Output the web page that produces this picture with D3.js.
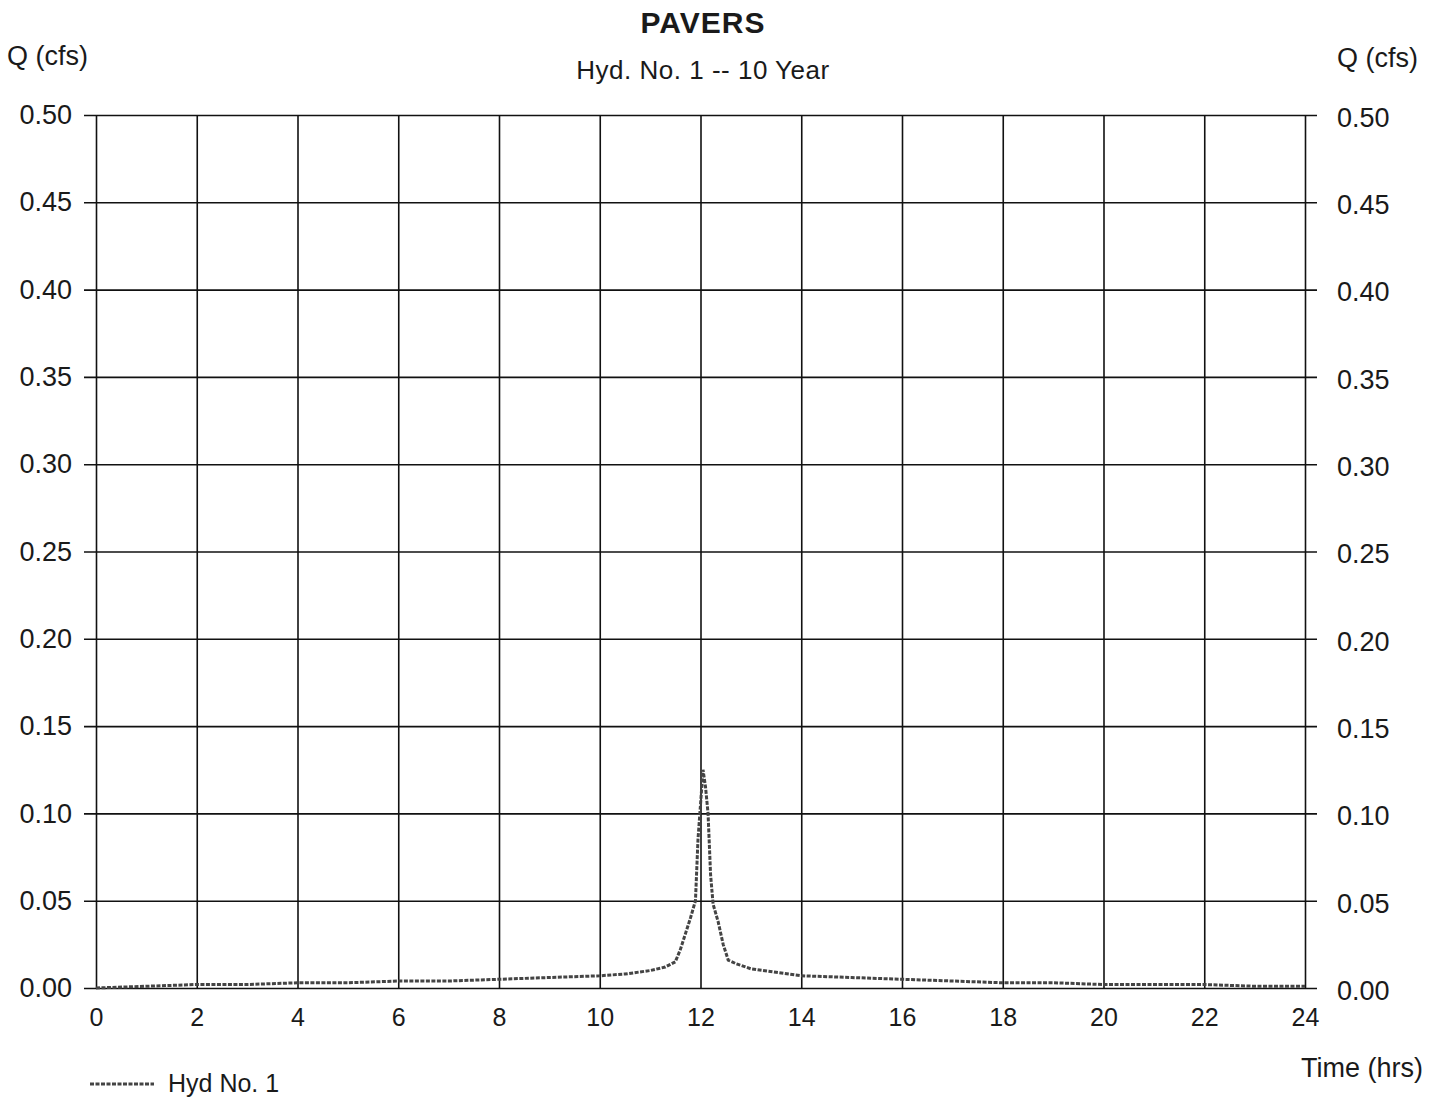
<!DOCTYPE html>
<html>
<head>
<meta charset="utf-8">
<script src="https://cdn.jsdelivr.net/npm/d3@7"></script>
<style>
  body { margin: 0; background: #fff; }
  text { font-family: "Liberation Sans", Arial, sans-serif; fill: #1a1a1a; }
</style>
</head>
<body>
<div id="chart"></div>
<script>
// hydrograph values
const hours = [0, 1, 2, 3, 4, 5, 6, 7, 8, 9, 10, 10.5, 11, 11.3, 11.5, 11.6, 11.7, 11.8, 11.9, 11.95, 12.0, 12.05,
  12.1, 12.15, 12.2, 12.25, 12.35, 12.45, 12.55, 12.7, 13, 13.5, 14, 15, 16, 17, 18, 19, 20, 21, 22, 23, 24];
const flow = [0.000, 0.001, 0.002, 0.002, 0.003, 0.003, 0.004, 0.004, 0.005, 0.006, 0.007, 0.008, 0.010, 0.012, 0.015,
  0.022, 0.031, 0.040, 0.050, 0.085, 0.105, 0.125, 0.115, 0.100, 0.065, 0.048, 0.038, 0.025, 0.016, 0.014, 0.011, 0.009,
  0.007, 0.006, 0.005, 0.004, 0.003, 0.003, 0.002, 0.002, 0.002, 0.001, 0.001];
const xTicks = [0, 2, 4, 6, 8, 10, 12, 14, 16, 18, 20, 22, 24];
const yTicks = [0, 0.05, 0.10, 0.15, 0.20, 0.25, 0.30, 0.35, 0.40, 0.45, 0.50];

const w = 1441, h = 1099;
const plotL = 96, plotR = 1305, plotT = 115, plotB = 988;

const svg = d3.select("#chart").append("svg")
  .attr("width", w)
  .attr("height", h);

const x = d3.scaleLinear().domain([0, 24]).range([plotL, plotR]);
const y = d3.scaleLinear().domain([0, 0.5]).range([plotB, plotT]);

// horizontal grid + left labels
svg.append("g")
  .attr("transform", "translate(" + (plotL - 12) + ",0)")
  .call(d3.axisLeft(y).tickValues(yTicks).tickFormat(d3.format(".2f"))
    .tickSize(-(plotR - plotL + 24)).tickPadding(12))
  .call(g => g.select(".domain").remove())
  .call(g => g.selectAll("line").attr("stroke", "#111").attr("stroke-width", 1.6))
  .call(g => g.selectAll("text").style("font-size", "27px").attr("fill", "#1a1a1a"));

// right labels
svg.append("g")
  .attr("transform", "translate(" + (plotR + 12) + ",0)")
  .call(d3.axisRight(y).tickValues(yTicks).tickFormat(d3.format(".2f")).tickSize(0).tickPadding(20))
  .call(g => g.select(".domain").remove())
  .call(g => g.selectAll("text").style("font-size", "27px").attr("fill", "#1a1a1a").attr("dy", "0.42em"));

// vertical grid + bottom labels
svg.append("g")
  .attr("transform", "translate(0," + plotB + ")")
  .call(d3.axisBottom(x).tickValues(xTicks).tickSize(-(plotB - plotT)).tickPadding(20))
  .call(g => g.select(".domain").remove())
  .call(g => g.selectAll("line").attr("stroke", "#111").attr("stroke-width", 1.6))
  .call(g => g.selectAll("text").style("font-size", "25px").attr("fill", "#1a1a1a"));

// hydrograph line
const line = d3.line()
  .x((d, i) => x(hours[i]))
  .y(d => y(d));

svg.append("path")
  .datum(flow)
  .attr("d", line)
  .attr("fill", "none")
  .attr("stroke", "#444")
  .attr("stroke-width", 3)
  .attr("stroke-dasharray", "4,1.5");

// titles
svg.append("text")
  .attr("x", 703).attr("y", 33)
  .style("text-anchor", "middle")
  .style("font-size", "30px").style("font-weight", "bold")
  .style("letter-spacing", "1px")
  .text("PAVERS");

svg.append("text")
  .attr("x", 703).attr("y", 79)
  .style("text-anchor", "middle")
  .style("font-size", "26px")
  .style("letter-spacing", "0.5px")
  .text("Hyd. No. 1 -- 10 Year");

svg.append("text")
  .attr("x", 7).attr("y", 65)
  .style("font-size", "27px")
  .text("Q (cfs)");

svg.append("text")
  .attr("x", 1418).attr("y", 67)
  .style("text-anchor", "end")
  .style("font-size", "27px")
  .text("Q (cfs)");

svg.append("text")
  .attr("x", 1423).attr("y", 1077)
  .style("text-anchor", "end")
  .style("font-size", "27px")
  .text("Time (hrs)");

// legend
svg.append("line")
  .attr("x1", 90).attr("x2", 154)
  .attr("y1", 1084).attr("y2", 1084)
  .attr("stroke", "#444")
  .attr("stroke-width", 3)
  .attr("stroke-dasharray", "4,1.5");

svg.append("text")
  .attr("x", 168).attr("y", 1092)
  .style("font-size", "25px")
  .text("Hyd No. 1");
</script>
</body>
</html>
